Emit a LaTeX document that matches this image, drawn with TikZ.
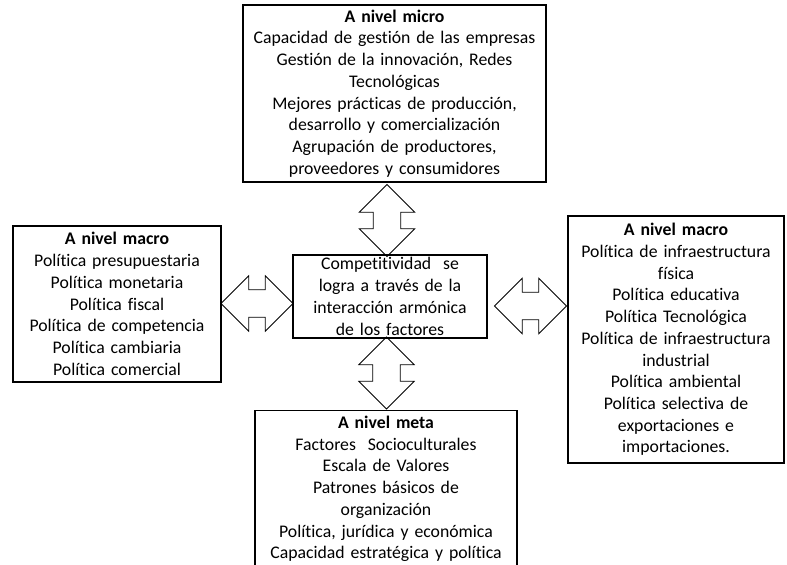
\documentclass[tikz,border=0pt]{standalone}
\usepackage{fontspec}
\setmainfont{Carlito}[Ligatures=NoCommon]
\usetikzlibrary{shapes.arrows}

\tikzset{
    nivel/.style={draw, line width=0.9pt, align=center, inner sep=2pt,
        font=\fontsize{13.3}{16.3}\selectfont},
    flecha/.style={draw, line width=0.6pt, fill=white, double arrow,
        double arrow tip angle=90, double arrow head extend=10.5pt,
        inner xsep=6pt, inner ysep=10pt, minimum height=54pt}
}

\begin{document}
\begin{tikzpicture}[x=0.75pt, y=-0.75pt]
    % Page size
    \useasboundingbox (0, 0) rectangle (787, 564);
    \clip (0, 0) rectangle (787, 564);

    % Double arrows
    \node[flecha, rotate=90] (flechaArriba) at (387, 220.5) {};
    \node[flecha, rotate=90] (flechaAbajo) at (386.5, 373) {};
    \node[flecha] (flechaIzq) at (257, 303.5) {};
    \node[flecha] (flechaDer) at (530.5, 306) {};

    % Micro level
    \node[nivel, minimum width=227.25pt, minimum height=132.75pt, text width=220pt] (micro) at (394.5, 93.5) {
        \textbf{A nivel micro}\\
        Capacidad de gestión de las empresas\\
        Gestión de la innovación, Redes\\
        Tecnológicas\\
        Mejores prácticas de producción,\\
        desarrollo y comercialización\\
        Agrupación de productores,\\
        proveedores y consumidores
    };

    % Macro level (left)
    \node[nivel, minimum width=156pt, minimum height=117pt, text width=150pt] (macroIzq) at (117, 304) {
        \textbf{A nivel macro}\\
        Política presupuestaria\\
        Política monetaria\\
        Política fiscal\\
        Política de competencia\\
        Política cambiaria\\
        Política comercial
    };

    % Centre
    \node[nivel, minimum width=145.5pt, minimum height=60.75pt, text width=140pt] (centro) at (390, 296.5) {
        Competitividad\ \ se\\
        logra a través de la\\
        interacción armónica\\
        de los factores
    };

    % Macro level (right)
    \node[nivel, minimum width=162pt, minimum height=185.25pt, text width=156pt] (macroDer) at (676, 339.5) {
        \textbf{A nivel macro}\\
        Política de infraestructura\\
        física\\
        Política educativa\\
        Política Tecnológica\\
        Política de infraestructura\\
        industrial\\
        Política ambiental\\
        Política selectiva de\\
        exportaciones e\\
        importaciones.
    };

    % Meta level (cut at the bottom)
    \node[nivel, anchor=north, minimum width=196.5pt, text width=190pt, inner ysep=4pt] (meta) at (386, 410) {
        \textbf{A nivel meta}\\
        Factores\ \ Socioculturales\\
        Escala de Valores\\
        Patrones básicos de\\
        organización\\
        Política, jurídica y económica\\
        Capacidad estratégica y política\\
        \strut
    };
\end{tikzpicture}
\end{document}
